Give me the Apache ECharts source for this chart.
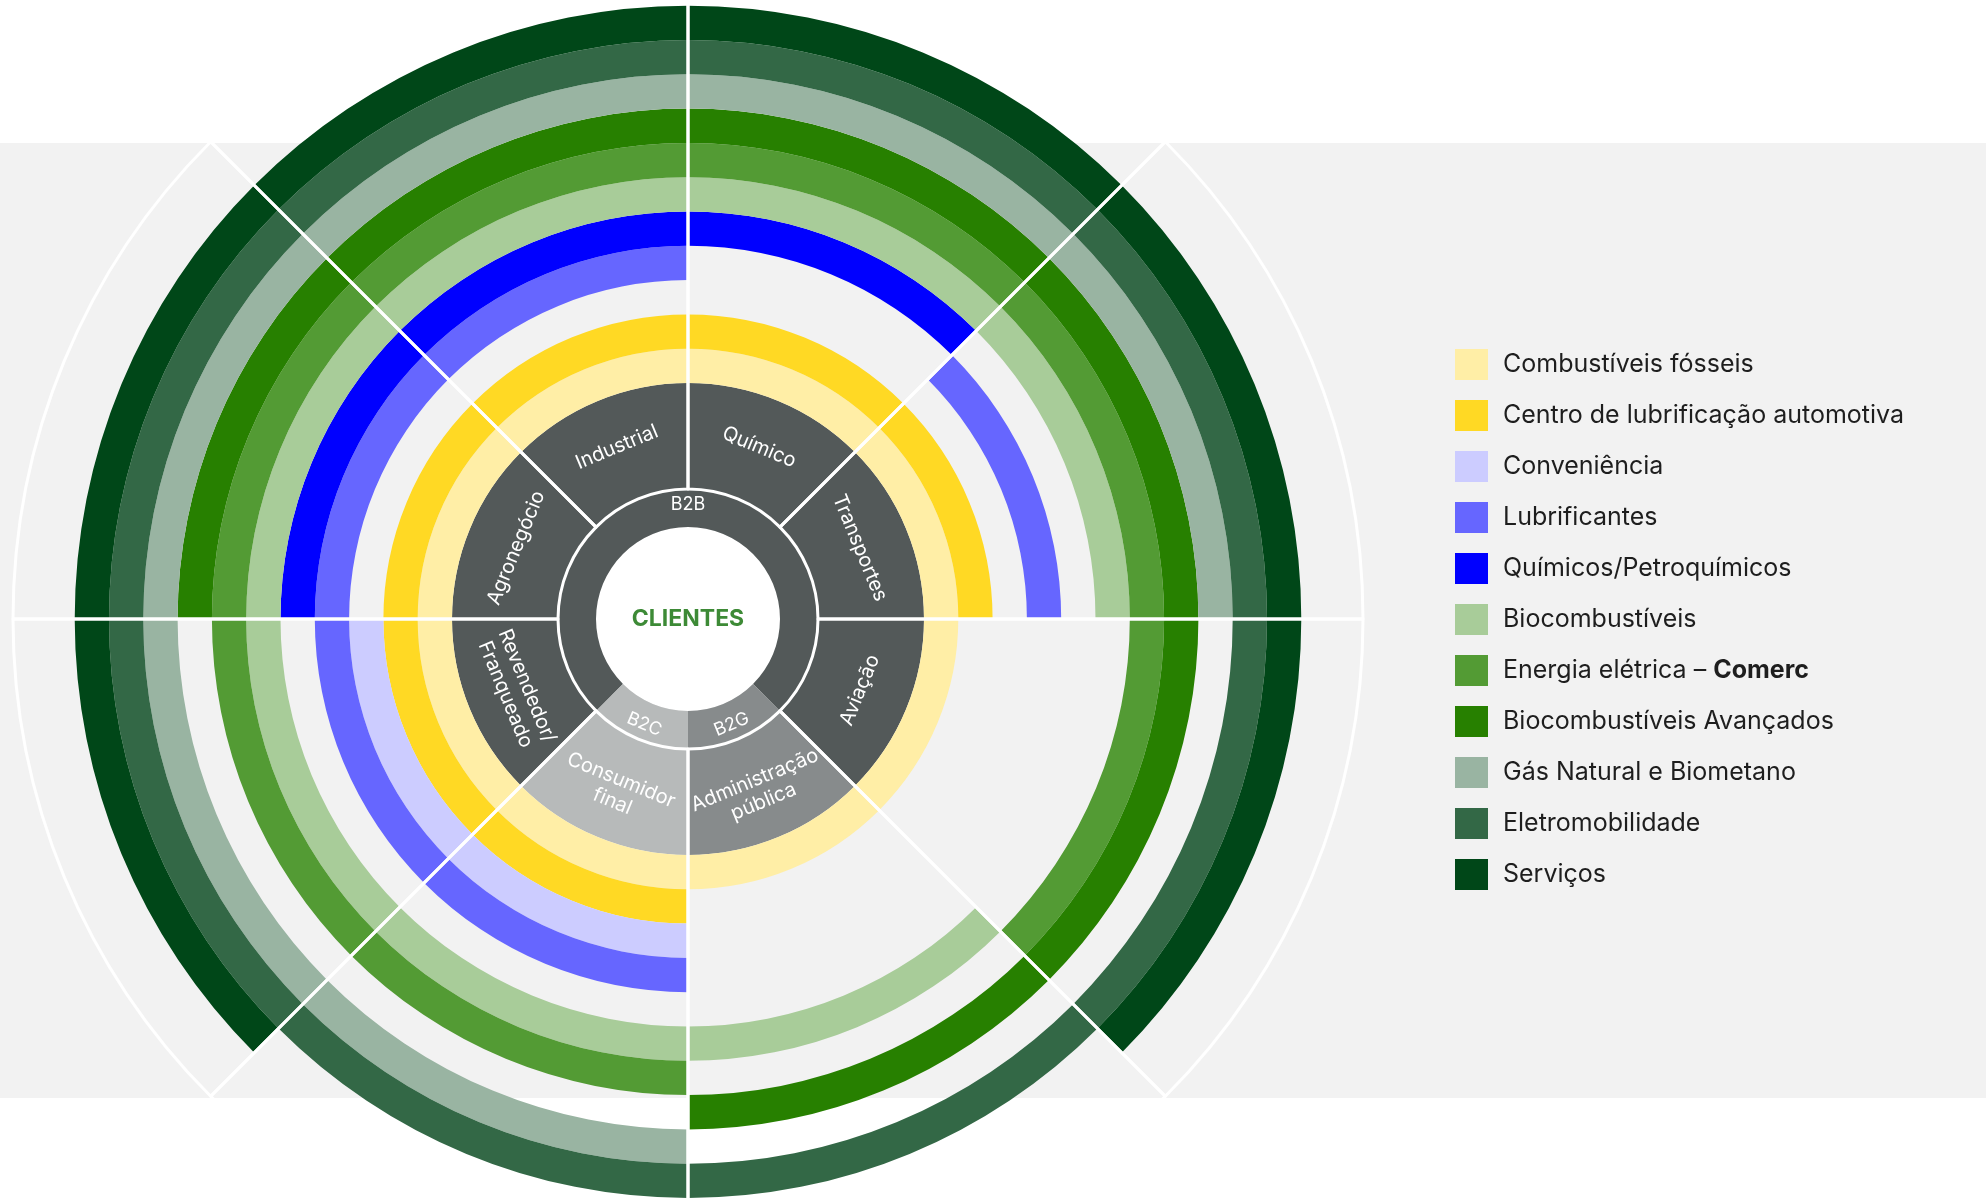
<!DOCTYPE html>
<html>
<head>
<meta charset="utf-8">
<title>Clientes</title>
<script src="https://cdn.jsdelivr.net/npm/echarts@6/dist/echarts.min.js"></script>
<style>
  html, body { margin: 0; padding: 0; background: #fff; }
  #chart { width: 1986px; height: 1200px; }
</style>
</head>
<body>
<div id="chart"></div>
<script>
// setores, sentido horario a partir do topo
const sectors = ['Químico', 'Transportes', 'Aviação', 'Administração\npública', 'Consumidor\nfinal', 'Revendedor/\nFranqueado', 'Agronegócio', 'Industrial'];
const sectorGroup = ['B2B', 'B2B', 'B2B', 'B2G', 'B2C', 'B2B', 'B2B', 'B2B'];
const groups = ['B2B', 'B2G', 'B2C'];

// aneis, de dentro para fora (legenda)
const rings = [
  'Combustíveis fósseis',
  'Centro de lubrificação automotiva',
  'Conveniência',
  'Lubrificantes',
  'Químicos/Petroquímicos',
  'Biocombustíveis',
  'Energia elétrica – Comerc',
  'Biocombustíveis Avançados',
  'Gás Natural e Biometano',
  'Eletromobilidade',
  'Serviços'
];

// 1 = atende o setor (mesma ordem de sectors)
const combustiveisFosseis = [1, 1, 1, 1, 1, 1, 1, 1];
const centroLubrificacao  = [1, 1, 0, 0, 1, 1, 1, 1];
const conveniencia        = [0, 0, 0, 0, 1, 1, 0, 0];
const lubrificantes       = [0, 1, 0, 0, 1, 1, 1, 1];
const quimicos            = [1, 0, 0, 0, 0, 0, 1, 1];
const biocombustiveis     = [1, 1, 0, 1, 1, 1, 1, 1];
const energiaEletrica     = [1, 1, 1, 0, 1, 1, 1, 1];
const biocombAvancados    = [1, 1, 1, 1, 0, 0, 1, 1];
const gasNatural          = [1, 1, 0, 0, 1, 1, 1, 1];
const eletromobilidade    = [1, 1, 1, 1, 1, 1, 1, 1];
const servicos            = [1, 1, 1, 0, 0, 1, 1, 1];

const ringMembers = [combustiveisFosseis, centroLubrificacao, conveniencia, lubrificantes, quimicos,
  biocombustiveis, energiaEletrica, biocombAvancados, gasNatural, eletromobilidade, servicos];

const ringColors = ['#ffeea6', '#ffd924', '#ccccff', '#6666ff', '#0000ff',
  '#a8cc99', '#539b34', '#278000', '#99b4a2', '#336846', '#004718'];
const groupColors = { B2B: '#535959', B2G: '#878b8c', B2C: '#b7baba' };

const center = [688, 619];
const ringInner = 236;
const ringWidth = 34.3;
const font = 'Inter';

const chart = echarts.init(document.getElementById('chart'));

const series = [];

// circulo central
series.push({
  type: 'pie', silent: true, center: center, radius: [0, 92],
  emphasis: { disabled: true },
  data: [{ value: 1, name: 'CLIENTES' }],
  itemStyle: { color: '#fff' },
  label: { show: true, position: 'center', formatter: '{b}', fontFamily: font, fontWeight: 'bold', fontSize: 23, color: '#3d8a36' },
  labelLine: { show: false }
});

// B2B / B2G / B2C
series.push({
  type: 'pie', silent: true, center: center, radius: [92, 130], startAngle: 225,
  emphasis: { disabled: true }, avoidLabelOverlap: false,
  data: groups.map(g => ({
    name: g,
    value: sectorGroup.filter(s => s === g).length,
    itemStyle: { color: groupColors[g] }
  })),
  label: { show: true, position: 'inside', rotate: 'tangential', formatter: '{b}', fontFamily: font, fontSize: 18, color: '#fff' },
  labelLine: { show: false }
});

// setores
series.push({
  type: 'pie', silent: true, center: center, radius: [130, ringInner],
  emphasis: { disabled: true }, avoidLabelOverlap: false,
  data: sectors.map((s, i) => ({
    name: s, value: 1,
    itemStyle: { color: groupColors[sectorGroup[i]] }
  })),
  label: { show: true, position: 'inside', rotate: 'tangential', formatter: '{b}', fontFamily: font, fontSize: 20, lineHeight: 23, color: '#fff' },
  labelLine: { show: false }
});

// aneis de negocios
rings.forEach((name, i) => {
  series.push({
    name: name,
    type: 'pie', silent: true, center: center,
    radius: [ringInner + i * ringWidth, ringInner + (i + 1) * ringWidth],
    emphasis: { disabled: true },
    itemStyle: { color: ringColors[i] },
    data: ringMembers[i].map((m, j) => ({
      name: sectors[j], value: 1,
      itemStyle: { color: m ? ringColors[i] : 'rgba(0,0,0,0)' }
    })),
    label: { show: false },
    labelLine: { show: false }
  });
});

// linhas brancas divisorias
series.push({
  type: 'pie', silent: true, center: center, radius: [130, 675], z: 5,
  emphasis: { disabled: true },
  data: sectors.map(s => ({ name: s, value: 1 })),
  itemStyle: { color: 'rgba(0,0,0,0)', borderColor: '#fff', borderWidth: 3 },
  label: { show: false },
  labelLine: { show: false }
});

chart.setOption({
  animation: false,
  backgroundColor: '#fff',
  graphic: [{
    type: 'rect', z: -10,
    shape: { x: 0, y: 143, width: 1986, height: 955 },
    style: { fill: '#f2f2f2' }
  }],
  legend: {
    orient: 'vertical', left: 1455, top: 349, padding: 0,
    itemWidth: 33, itemHeight: 31, itemGap: 20,
    icon: 'rect', selectedMode: false,
    data: rings.map((r, i) => ({ name: r, itemStyle: { color: ringColors[i] } })),
    formatter: function (name) {
      if (name === 'Energia elétrica – Comerc') {
        return 'Energia elétrica – {b|Comerc}';
      }
      return name;
    },
    textStyle: {
      fontFamily: font, fontSize: 25, color: '#1e1e1e', lineHeight: 31, padding: [0, 0, 0, 10],
      rich: { b: { fontFamily: font, fontSize: 25, fontWeight: 'bold', color: '#1e1e1e', lineHeight: 31 } }
    }
  },
  series: series
});
</script>
</body>
</html>
